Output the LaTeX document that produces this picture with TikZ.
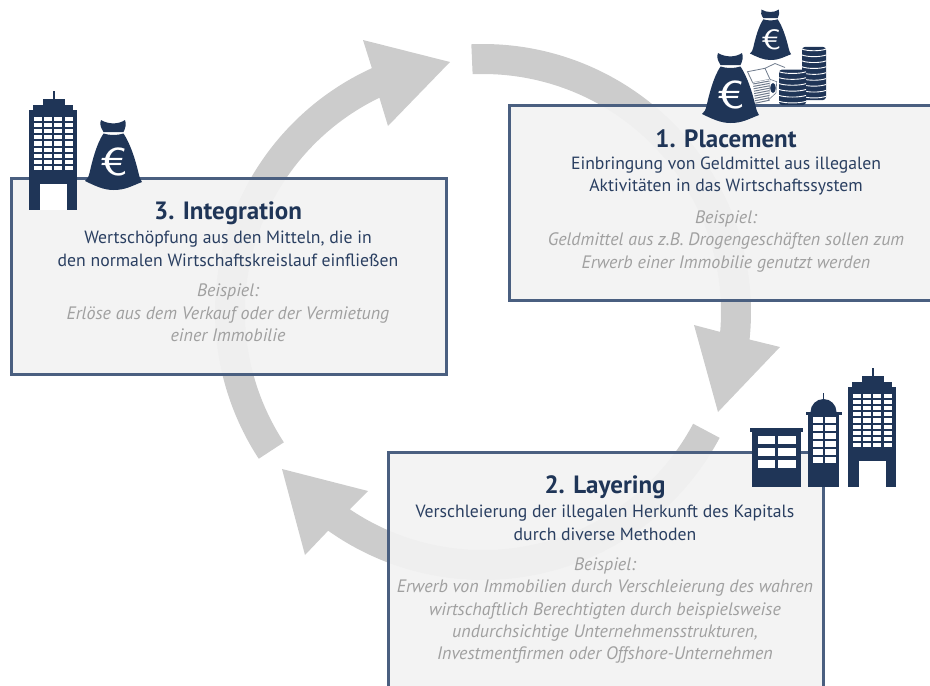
\documentclass[tikz,border=0pt]{standalone}
\usepackage{fontspec}
\setmainfont{PT Sans}
\definecolor{navy}{HTML}{1F3557}
\definecolor{boxline}{HTML}{4A5F80}
\definecolor{boxfill}{HTML}{F2F2F2}
\definecolor{arrowgray}{HTML}{CCCCCC}
\definecolor{notegray}{HTML}{A0A0A0}
\definecolor{subblue}{HTML}{2A3F61}
\definecolor{billgray}{HTML}{6F7B8C}
\tikzset{
  stagebox/.style={draw=boxline,line width=3pt,fill=boxfill,fill opacity=.94,draw opacity=1},
  cyclearrow/.style={fill=arrowgray},
  boxtitle/.style={text=navy,font=\fontsize{25}{29}\selectfont\bfseries,anchor=center},
  boxtext/.style={text=subblue,align=center,font=\fontsize{17.7}{22.8}\selectfont,anchor=center},
  boxnote/.style={text=notegray,align=center,font=\fontsize{18}{22.3}\selectfont\itshape,anchor=center},
  pics/moneybag/.style={code={
    \fill[navy] (-10,58) .. controls (-13,63) and (-14,66) .. (-12.5,70) .. controls (-5,65.5) and (5,65.5) .. (11.5,70)
      .. controls (13,66) and (12,62) .. (10,58) -- cycle;
    \fill[navy] (-10,56.5) .. controls (-4,54.5) and (4,54.5) .. (10,56.5) .. controls (17,46) and (22,30) .. (25,17)
      .. controls (26,13) and (27,10) .. (28.5,8) .. controls (18,4) and (12,0) .. (0,0)
      .. controls (-10,0) and (-18,4) .. (-28.5,9) .. controls (-26,11) and (-25,13) .. (-24,17)
      .. controls (-21,30) and (-17,46) .. (-10,56.5) -- cycle;
    \node[text=white,transform shape,xscale=1.3,inner sep=0pt,font=\sffamily\fontsize{39}{39}\selectfont] (euro) at (.5,28) {€};
  }},
  pics/tower/.style={code={
    \fill[navy] (0,0) rectangle (48,100);
    \fill[navy] (4,100) rectangle (44,105);
    \fill[navy] (14,105) rectangle (36,111);
    \fill[navy] (24.4,111) rectangle (26,119);
    \fill[white] (11,0) rectangle (38,26);
    \foreach \c in {0,...,3}
      \foreach \r in {0,...,8}
        \fill[white] (5+10.2*\c,89.3-6.2*\r) rectangle +(8,4.2);
  }},
  pics/domed/.style={code={
    \fill[navy] (0,0) rectangle (31,72);
    \fill[navy] (-2,72) rectangle (34,75);
    \fill[navy] (2.5,75) arc[start angle=180,end angle=0,radius=13];
    \fill[navy] (14.7,84) rectangle (16.3,94);
    \foreach \r in {0,...,5} {
      \fill[white] (5,64-8*\r) rectangle +(10,6);
      \fill[white] (17,64-8*\r) rectangle +(10.5,6);
    }
  }},
  pics/block/.style={code={
    \fill[navy] (0,0) rectangle (49,56);
    \fill[navy] (-2,55) rectangle (51,59);
    \foreach \r in {0,1,2} {
      \fill[white] (6,43-12*\r) rectangle +(17,8.5);
      \fill[white] (26,43-12*\r) rectangle +(18,8.5);
    }
  }},
  pics/coinstack/.style n args={2}{code={
    \fill[navy,rounded corners=3pt] (0,0) rectangle (#1,5.9*#2);
    \foreach \k in {1,...,#2}
      \draw[white,line width=.9pt] (0,5.9*\k-2.2) .. controls (#1*.25,5.9*\k-4.4) and (#1*.75,5.9*\k-4.4) .. (#1,5.9*\k-2.2);
  }},
}
\begin{document}
\begin{tikzpicture}[x=1pt,y=1pt]
  \clip (0,0) rectangle (930,-686);
  \coordinate (o) at (483,-312);

  % cycle arrows
  \fill[cyclearrow] ([shift={(92.5:268)}]o) arc[start angle=92.5,end angle=-5.9,radius=268]
    -- (780,-347) -- (718,-412) -- (694,-325) -- ([shift={(-4.8:238)}]o)
    arc[start angle=-4.8,end angle=92.5,radius=238] -- cycle;
  \fill[cyclearrow] ([shift={(-28:268)}]o) arc[start angle=-28,end angle=-125.3,radius=268]
    -- (305,-555) -- (282,-469) -- (368,-491) -- ([shift={(-124:238)}]o)
    arc[start angle=-124,end angle=-28,radius=238] -- cycle;
  \fill[cyclearrow] ([shift={(213.2:268)}]o) arc[start angle=213.2,end angle=114.5,radius=268]
    -- (363,-40) -- (450,-62) -- (388,-126) -- ([shift={(115.8:238)}]o)
    arc[start angle=115.8,end angle=213.2,radius=238] -- cycle;

  % boxes
  \draw[stagebox] (509,-105) rectangle (945,-300);
  \draw[stagebox] (388,-452) rectangle (823,-700);
  \draw[stagebox] (11,-178) rectangle (446,-374);

  % 1. placement
  \node[boxtitle] (placementtitle) at (726,-139) {1. Placement};
  \node[boxtext] (placementtext) at (726,-176) {Einbringung von Geldmittel aus illegalen\\Aktivitäten in das Wirtschaftssystem};
  \node[boxnote] (placementnote) at (726,-241.5) {Beispiel:\\Geldmittel aus z.B. Drogengeschäften sollen zum\\Erwerb einer Immobilie genutzt werden};

  % 2. layering
  \node[boxtitle] (layeringtitle) at (605,-487.5) {2. Layering};
  \node[boxtext] (layeringtext) at (605,-522.5) {Verschleierung der illegalen Herkunft des Kapitals\\durch diverse Methoden};
  \node[boxnote] (layeringnote) at (605,-610.5) {Beispiel:\\Erwerb von Immobilien durch Verschleierung des wahren\\wirtschaftlich Berechtigten durch beispielsweise\\undurchsichtige Unternehmensstrukturen,\\Investmentfirmen oder Offshore-Unternehmen};

  % 3. integration
  \node[boxtitle] (integrationtitle) at (228,-213.5) {3. Integration};
  \node[boxtext] (integrationtext) at (228,-248.5) {Wertschöpfung aus den Mitteln, die in\\den normalen Wirtschaftskreislauf einfließen};
  \node[boxnote] (integrationnote) at (228,-313) {Beispiel:\\Erlöse aus dem Verkauf oder der Vermietung\\einer Immobilie};

  % money pile
  \pic (backcoins) at (802,-100) {coinstack={24}{9}};
  \pic (frontcoins) at (779,-105) {coinstack={27}{6}};
  \draw[billgray,line width=.8pt] (765,-68.3) -- (775,-63.5) -- (785,-67.5);
  \filldraw[fill=white,draw=billgray,line width=.8pt] (747.5,-71.7) -- (765,-68.3) -- (770,-79.3) -- (752.7,-82.7) -- cycle;
  \filldraw[fill=white,draw=billgray,line width=.6pt] (770,-79.3) -- (776.7,-81.7) -- (776,-93) -- (768.3,-100) -- cycle;
  \fill[white] (752.7,-82.7) -- (770,-79.3) -- (768.3,-100) -- (755,-103.3) -- cycle;
  \foreach \k in {0,...,8}
    \draw[billgray,line width=1pt] (753+\k*.28,-84-\k*2.4) -- (769.5,-81-\k*2.4);
  \fill[navy] (773,-88) ellipse[x radius=2.8,y radius=5];
  \pic[scale=.72] (smallbag) at (770.5,-60) {moneybag};
  \pic (bigbag) at (730.5,-123) {moneybag};

  % buildings
  \pic (righttower) at (848,-487) {tower};
  \pic (midtower) at (808,-487) {domed};
  \pic (lowblock) at (752,-487) {block};
  \pic (lefttower) at (29,-210) {tower};
  \pic (leftbag) at (113.5,-190) {moneybag};
\end{tikzpicture}
\end{document}
